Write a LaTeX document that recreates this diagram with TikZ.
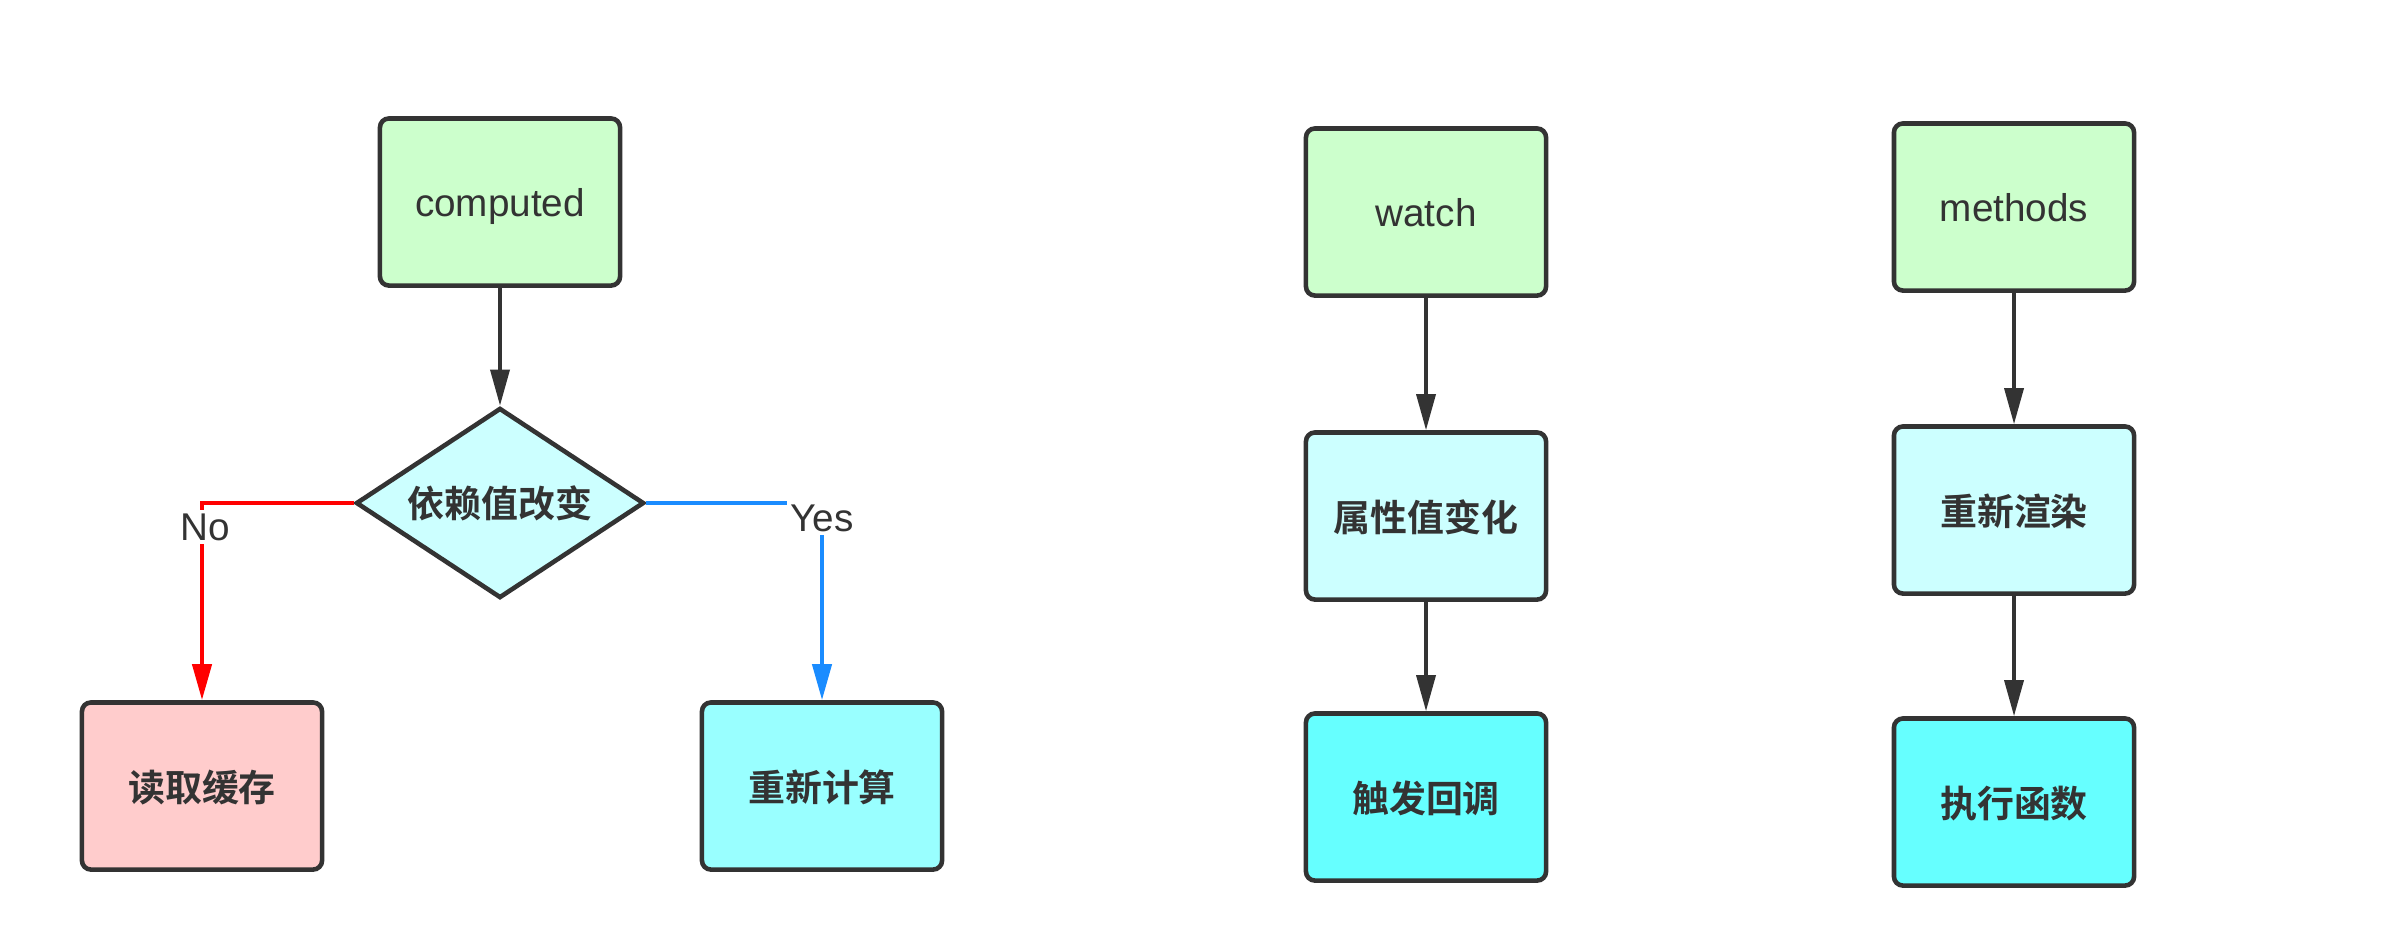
\documentclass[tikz,border=0pt]{standalone}
\usepackage{fontspec}
\setmainfont{Liberation Sans}
\newfontfamily\cjk{Noto Sans CJK SC}[BoldFont={Noto Sans CJK SC Bold}]
\usetikzlibrary{shapes.geometric,arrows.meta}
\definecolor{edge}{HTML}{333333}
\definecolor{txt}{HTML}{333333}
\definecolor{cgreen}{HTML}{CCFFCC}
\definecolor{clight}{HTML}{CCFFFF}
\definecolor{cpink}{HTML}{FFCCCC}
\definecolor{cmid}{HTML}{99FFFF}
\definecolor{cbright}{HTML}{66FFFF}
\definecolor{cred}{HTML}{FF0000}
\definecolor{cblue}{HTML}{1A8CFF}
\begin{document}
\begin{tikzpicture}[x=0.01cm,y=-0.01cm,
  box/.style={draw=edge,line width=1.3pt,rounded corners=0.09cm,minimum width=2.4cm,minimum height=1.67cm,inner sep=0pt,text=txt,font=\fontsize{11}{13}\selectfont,text depth=0pt},
  cjkbox/.style={box,font=\cjk\bfseries\fontsize{10.5}{13}\selectfont},
  dia/.style={draw=edge,line width=1.3pt,diamond,aspect=1.5,inner sep=0pt,minimum width=2.88cm,minimum height=1.9cm,fill=clight,text=txt,font=\cjk\bfseries\fontsize{10.5}{13}\selectfont},
  tip/.style={-{Triangle[length=0.36cm,width=0.19cm]}},
  arr/.style={draw=edge,line width=1pt,tip},
  lbl/.style={fill=white,inner sep=1pt,text=txt,font=\fontsize{11}{13}\selectfont}
]
\useasboundingbox[fill=white] (0,0) rectangle (2404,944);

% left flowchart
\node[box,fill=cgreen] (comp) at (500,202) {computed};
\node[dia] (dep) at (500,503) {依赖值改变};
\node[cjkbox,fill=cpink] (cache) at (202,786) {读取缓存};
\node[cjkbox,fill=cmid] (recalc) at (822,786) {重新计算};
\coordinate (nocorner) at (202,503);
\coordinate (yescorner) at (822,503);

\draw[arr] (comp) -- (dep);
\draw[cred,line width=1.2pt,tip] (dep.west) -- (nocorner) -- (cache.north);
\draw[cblue,line width=1.2pt,tip] (dep.east) -- (yescorner) -- (recalc.north);
\node[lbl] (no) at (205,527) {No};
\node[lbl] (yes) at (822,518) {Yes};

% watch column
\node[box,fill=cgreen] (watch) at (1426,212) {watch};
\node[cjkbox,fill=clight] (prop) at (1426,516) {属性值变化};
\node[cjkbox,fill=cbright] (cb) at (1426,797) {触发回调};
\draw[arr] (watch) -- (prop);
\draw[arr] (prop) -- (cb);

% methods column
\node[box,fill=cgreen] (meth) at (2014,207) {methods};
\node[cjkbox,fill=clight] (render) at (2014,510) {重新渲染};
\node[cjkbox,fill=cbright] (exec) at (2014,802) {执行函数};
\draw[arr] (meth) -- (render);
\draw[arr] (render) -- (exec);
\end{tikzpicture}
\end{document}
